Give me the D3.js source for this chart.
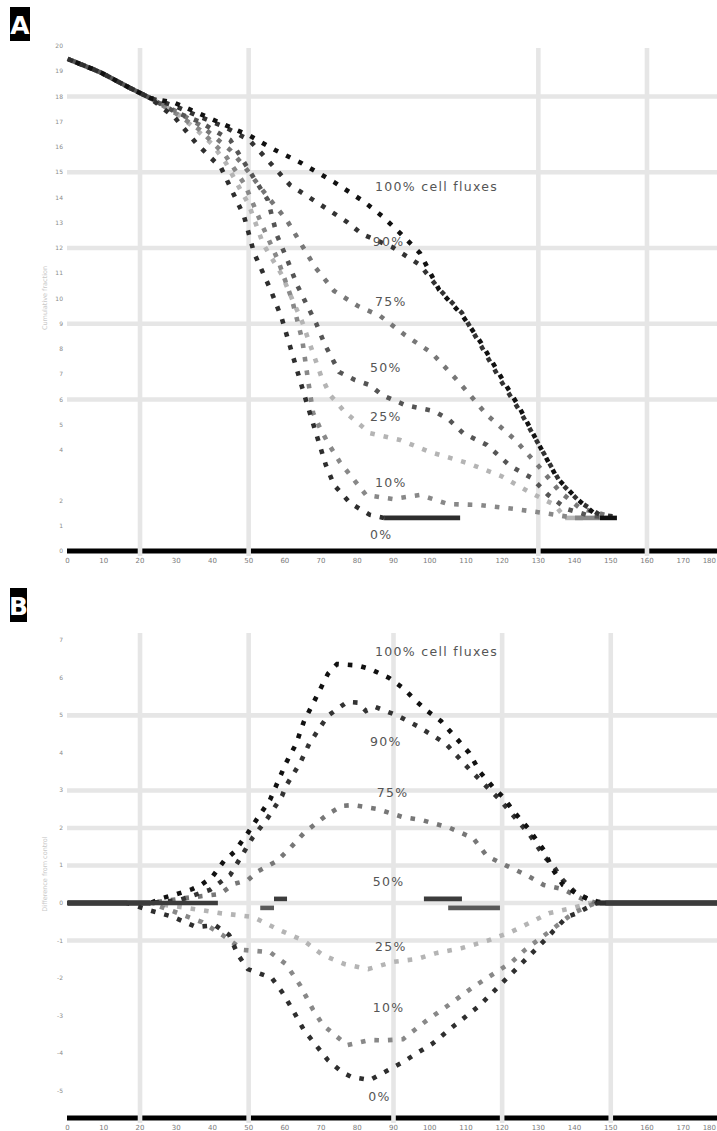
<!DOCTYPE html>
<html><head><meta charset="utf-8">
<script src="https://cdn.jsdelivr.net/npm/d3@7"></script>
<style>body{margin:0;background:#fff}svg{display:block}</style>
</head><body><svg id="c" width="717" height="1131"></svg>
<script>
// ---------- DATA ----------
const xTicks = [0,1,2,3,4,5,6,7,8,9,10,11,12,13,14,15,16,17,18];
const aYTicks = [0,1,2,4,5,6,7,8,9,10,11,12,13,14,15,16,17,18,19,20];
const bYTicks = [-5,-4,-3,-2,-1,0,1,2,3,4,5,6,7];
const aGridX = [2,5,13,16];
const aGridY = [6,9,12,15,18];
const bGridX = [2,5,9,12,15];
const bGridY = [5,3,2,1,0,-1];
const seriesNames = ["100% cell fluxes","90%","75%","50%","25%","10%","0%"];

// Panel A (cumulative curves)
const a100 = [[0,19.49],[0.89,18.97],[1.72,18.34],[2.28,17.94],[2.97,17.74],[3.66,17.31],[4.35,16.87],[5.04,16.44],[5.73,15.88],[6.45,15.37],[7.36,14.61],[8.16,13.86],[8.68,13.27],[9.21,12.55],[9.73,11.80],[10.26,10.34],[10.89,9.35],[11.42,8.24],[11.97,6.89],[12.47,5.70],[12.99,4.28],[13.52,2.89],[14.07,2.06],[14.57,1.46],[14.70,1.31],[15.17,1.31]];
const a90 = [[0,19.49],[0.89,18.97],[1.72,18.34],[2.28,17.94],[2.97,17.62],[3.66,17.19],[4.35,16.79],[5.01,16.28],[5.40,15.68],[6.14,14.50],[7.00,13.70],[7.72,13.03],[8.13,12.55],[8.96,12.04],[9.73,11.33],[10.28,10.34],[10.89,9.43],[11.42,8.12],[11.97,6.73],[12.49,5.54],[13.05,4.12],[13.60,2.73],[14.15,1.94],[14.70,1.43],[15.12,1.36]];
const a75 = [[0,19.49],[0.89,18.97],[1.72,18.34],[2.28,17.94],[2.97,17.43],[3.66,16.87],[3.99,16.48],[4.49,15.88],[4.87,15.25],[5.53,14.02],[6.05,13.11],[6.45,12.16],[6.83,11.25],[7.36,10.30],[8.02,9.70],[8.63,9.31],[9.32,8.55],[10.06,7.84],[10.78,6.73],[11.58,5.39],[12.36,4.40],[13.05,3.29],[13.60,2.34],[14.15,1.70],[15.04,1.35]];
const a50 = [[0,19.49],[0.89,18.97],[1.72,18.34],[2.28,17.94],[2.97,17.39],[3.66,16.99],[4.49,16.28],[5.18,14.69],[5.53,13.90],[5.78,12.51],[6.05,11.60],[6.34,10.53],[6.61,9.74],[6.86,9.03],[7.11,8.16],[7.50,7.09],[7.94,6.77],[8.35,6.57],[8.68,6.18],[9.32,5.78],[10.12,5.54],[10.51,5.23],[10.92,4.67],[11.58,4.20],[12.22,3.37],[12.82,2.89],[13.27,2.22],[13.79,1.66],[14.43,1.39],[15.04,1.33]];
const a25 = [[0,19.49],[0.89,18.97],[1.72,18.34],[2.28,17.94],[2.97,17.39],[3.57,16.67],[3.99,16.12],[4.37,15.37],[4.73,14.42],[5.01,13.70],[5.40,12.16],[5.92,10.93],[6.20,9.98],[6.48,9.07],[6.72,8.08],[7.00,6.93],[7.25,6.18],[7.66,5.50],[8.35,4.67],[9.18,4.40],[10.01,3.92],[11.03,3.49],[11.97,2.97],[12.74,2.34],[13.46,1.82],[13.74,1.31],[14.23,1.31]];
const a10 = [[0,19.49],[0.89,18.97],[1.72,18.34],[2.28,17.94],[2.97,17.35],[3.66,16.67],[4.35,15.68],[4.90,14.50],[5.37,12.91],[5.81,11.52],[6.20,9.94],[6.48,8.36],[6.64,6.77],[6.78,5.47],[6.97,4.87],[7.19,4.28],[7.52,3.52],[8.24,2.22],[8.98,2.06],[9.73,2.22],[10.51,1.86],[11.39,1.82],[12.36,1.66],[13.18,1.50],[14.01,1.31],[14.70,1.31]];
const a0 = [[0,19.49],[0.89,18.97],[1.72,18.34],[2.28,17.94],[2.97,17.15],[3.57,16.12],[4.24,15.17],[4.87,13.27],[5.15,11.80],[5.62,10.30],[5.92,9.19],[6.31,7.29],[6.58,5.98],[6.86,4.67],[7.13,3.41],[7.36,2.61],[7.80,1.90],[8.35,1.43],[8.74,1.31],[10.84,1.31]];

// Panel B (difference curves)
const b100 = [[0,0],[2.28,0],[2.61,0.13],[3.02,0.24],[3.44,0.37],[3.68,0.48],[3.99,0.69],[4.32,1.12],[4.60,1.36],[4.98,1.87],[5.23,2.24],[5.59,2.75],[6.03,3.73],[6.31,4.24],[6.53,4.85],[6.80,5.36],[7.19,6.11],[7.44,6.37],[8.02,6.33],[8.35,6.24],[8.88,6.00],[9.26,5.73],[9.65,5.36],[9.93,5.12],[10.31,4.85],[10.70,4.43],[11.09,4.00],[11.39,3.49],[11.75,3.09],[12.00,2.85],[12.38,2.37],[12.71,2.00],[13.15,1.41],[13.41,0.88],[13.68,0.48],[14.07,0.24],[14.43,0.08],[14.70,0],[18,0]];
const b90 = [[0,0],[2.28,0],[3.10,0.08],[3.93,0.35],[4.49,0.75],[5.12,1.76],[5.51,2.24],[5.92,2.85],[6.03,3.12],[6.42,3.73],[6.67,4.24],[6.92,4.61],[7.19,4.99],[7.72,5.36],[8.02,5.34],[8.24,5.12],[8.49,5.23],[9.12,4.99],[9.65,4.72],[10.06,4.48],[10.45,4.24],[11.11,3.55],[11.94,2.75],[12.77,1.81],[13.15,1.25],[13.41,0.99],[13.68,0.61],[14.01,0.29],[14.43,0.08],[14.84,0],[18,0]];
const b75 = [[0,0],[2.28,0],[3.24,0.13],[4.21,0.24],[4.60,0.51],[4.98,0.61],[5.23,0.83],[5.78,1.12],[6.17,1.49],[6.53,1.87],[7.19,2.37],[7.58,2.59],[7.88,2.61],[8.54,2.51],[9.26,2.29],[9.79,2.21],[10.56,2.00],[11.20,1.73],[11.58,1.25],[12.13,0.99],[12.66,0.75],[13.15,0.48],[13.68,0.37],[14.21,0.11],[14.62,0],[18,0]];
const b50 = [[0,0],[4.15,0],null,[5.70,0.11],[6.06,0.11],null,[9.84,0.11],[10.89,0.11],null,[14.87,0],[18,0]];
const b50low = [[5.32,-0.13],[5.70,-0.13],null,[10.51,-0.13],[11.94,-0.13]];
const b25 = [[0,0],[2.28,0],[3.30,-0.13],[4.21,-0.27],[5.12,-0.37],[5.78,-0.69],[6.53,-1.01],[7.05,-1.39],[7.66,-1.63],[8.30,-1.76],[8.99,-1.57],[9.65,-1.49],[10.20,-1.33],[10.89,-1.20],[11.58,-1.01],[12.25,-0.77],[12.63,-0.59],[13.29,-0.27],[13.96,-0.13],[14.43,0],[18,0]];
const b10 = [[0,0],[2.28,0],[2.97,-0.24],[3.71,-0.51],[4.32,-0.88],[4.84,-1.25],[5.59,-1.31],[6.03,-1.63],[6.42,-2.19],[6.78,-2.85],[7.05,-3.25],[7.72,-3.79],[8.35,-3.65],[8.74,-3.66],[9.26,-3.63],[9.93,-3.12],[10.45,-2.77],[11.20,-2.24],[11.58,-2.00],[12.27,-1.57],[12.63,-1.25],[13.29,-0.77],[13.96,-0.27],[14.57,0],[18,0]];
const b0 = [[0,0],[1.64,0],[2.25,-0.19],[2.91,-0.37],[3.55,-0.64],[4.07,-0.59],[4.46,-0.85],[4.71,-1.39],[4.98,-1.76],[5.64,-2.00],[5.92,-2.37],[6.17,-2.77],[6.53,-3.39],[7.19,-4.19],[7.58,-4.51],[7.85,-4.64],[8.35,-4.72],[9.01,-4.37],[9.26,-4.24],[9.65,-4.00],[10.06,-3.76],[10.70,-3.25],[11.33,-2.77],[11.47,-2.64],[12.22,-1.92],[12.77,-1.39],[13.29,-0.88],[13.41,-0.75],[13.79,-0.37],[14.07,-0.27],[14.34,-0.13],[14.62,0],[18,0]];

// Label anchors (data units)
const aLabelPos = [[8.49,14.26],[8.43,12.08],[8.49,9.70],[8.35,7.09],[8.35,5.15],[8.49,2.53],[8.35,0.48]];
const bLabelPos = [[8.49,6.59],[8.35,4.19],[8.54,2.83],[8.43,0.45],[8.49,-1.28],[8.43,-2.91],[8.30,-5.28]];

// ---------- STYLE ----------
const aSeries = [
  {pts:a25, color:"#b4b4b4"},{pts:a10, color:"#888"},{pts:a75, color:"#777"},
  {pts:a50, color:"#555"},{pts:a0, color:"#2e2e2e"},{pts:a90, color:"#333"},{pts:a100, color:"#111"}];
const bSeries = [
  {pts:b25, color:"#b4b4b4"},{pts:b10, color:"#888"},{pts:b75, color:"#777"},
  {pts:b90, color:"#333"},{pts:b100, color:"#111"},{pts:b0, color:"#2e2e2e"},
  {pts:b50low, color:"#5a5a5a"},{pts:b50, color:"#3c3c3c"}];

const svg = d3.select("#c");
const font = "DejaVu Sans, sans-serif";
const x = d3.scaleLinear().domain([0,18]).range([67.6,719.4]);
const yA = d3.scaleLinear().domain([0,20]).range([551,46]);
const yB = d3.scaleLinear().domain([-5.73,7.25]).range([1118,631]);
const W = 717;

function drawSeries(g, pts, color, y, k){
  const runs=[]; let cur=[];
  pts.forEach(p=>{ if(p===null){ if(cur.length) runs.push(cur); cur=[]; } else cur.push(p); });
  if(cur.length) runs.push(cur);
  const line = d3.line().x(d=>x(d[0])).y(d=>y(d[1]));
  function emit(piece, flat){
    if(piece.length<2) return;
    g.append("path").attr("d", line(piece)).attr("fill","none")
      .attr("stroke", color).attr("stroke-width", 4.6)
      .attr("stroke-dasharray", flat ? null : "4.6 9")
      .attr("stroke-dashoffset", flat ? null : k*3.1);
  }
  runs.forEach(run=>{
    let piece=[run[0]], flat=null;
    for(let i=1;i<run.length;i++){
      const f = run[i][1]===run[i-1][1];
      if(flat===null) flat=f;
      if(f!==flat){ emit(piece,flat); piece=[run[i-1]]; flat=f; }
      piece.push(run[i]);
    }
    emit(piece, flat);
  });
}

function panel(opts){
  const {y, gridX, gridY, yTicks, series, labelPos, letter, letterBox, title, titleY} = opts;
  const g = svg.append("g");
  const y0 = y.range()[0], yTop = y.range()[1];
  g.append("line").attr("x1", x(0)-0.6).attr("x2", W).attr("y1", y0).attr("y2", y0)
    .attr("stroke","#000").attr("stroke-width",5);
  g.selectAll(".gx").data(gridX).enter().append("line")
    .attr("x1", d=>x(d)).attr("x2", d=>x(d)).attr("y1", yTop+2).attr("y2", y0+5)
    .attr("stroke","#e6e6e6").attr("stroke-width",4.6);
  g.selectAll(".gy").data(gridY).enter().append("line")
    .attr("x1", x(0)-0.6).attr("x2", W).attr("y1", d=>y(d)).attr("y2", d=>y(d))
    .attr("stroke","#e6e6e6").attr("stroke-width",4.6);
  series.forEach((s,k)=>drawSeries(g, s.pts, s.color, y, k));
  g.selectAll(".lab").data(labelPos).enter().append("text")
    .attr("x", d=>x(d[0])).attr("y", d=>y(d[1]))
    .attr("font-family", font).attr("font-size", 12.5).attr("letter-spacing", 1.3)
    .attr("fill", "#555").text((d,i)=>seriesNames[i]);
  g.selectAll(".yt").data(yTicks).enter().append("text")
    .attr("x", 63).attr("y", d=>y(d)+2).attr("text-anchor","end")
    .attr("font-family", font).attr("font-size", 6).attr("fill","#8a8a8a").text(d=>d);
  g.selectAll(".xt").data(xTicks).enter().append("text")
    .attr("x", d=>Math.min(x(d), W-1)).attr("y", y0+12)
    .attr("text-anchor", d=>x(d) > W-6 ? "end" : "middle")
    .attr("font-family", font).attr("font-size", 7).attr("fill","#7a7a7a").text(d=>d*10);
  g.append("text").attr("transform", `translate(47,${titleY}) rotate(-90)`)
    .attr("text-anchor","middle").attr("font-family", font).attr("font-size", 6.5)
    .attr("fill","#c8c8c8").text(title);
  g.append("rect").attr("x", letterBox[0]).attr("y", letterBox[1]).attr("width", letterBox[2]).attr("height", letterBox[3]).attr("fill","#000");
  g.append("text").attr("x", letterBox[0]+letterBox[2]/2).attr("y", letterBox[1]+letterBox[3]-7)
    .attr("text-anchor","middle").attr("font-family", font).attr("font-weight","bold")
    .attr("font-size", 25).attr("fill","#fff").text(letter);
}

panel({y:yA, gridX:aGridX, gridY:aGridY, yTicks:aYTicks, series:aSeries, labelPos:aLabelPos,
  letter:"A", letterBox:[10,7,20,34], title:"Cumulative fraction", titleY:298});
panel({y:yB, gridX:bGridX, gridY:bGridY, yTicks:bYTicks, series:bSeries, labelPos:bLabelPos,
  letter:"B", letterBox:[10,588,17,34], title:"Difference from control", titleY:874});
</script>
</body></html>
